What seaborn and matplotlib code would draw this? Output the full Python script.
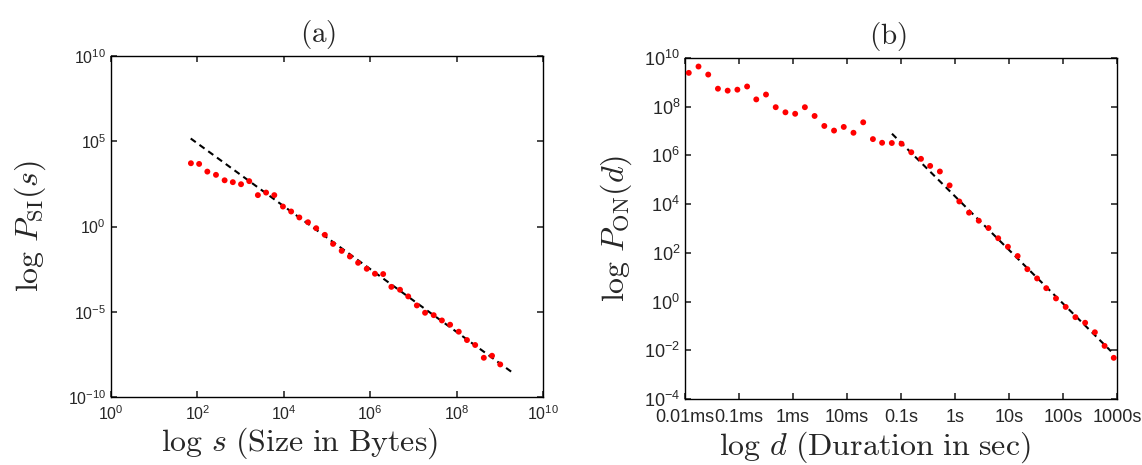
import numpy as np
import pandas as pd
import seaborn as sns
import matplotlib.pyplot as plt
from matplotlib.ticker import LogLocator, FixedLocator, NullLocator, NullFormatter

# (a) size distribution, log10 values
size_log = [1.85, 2.04, 2.23, 2.43, 2.63, 2.82, 3.01, 3.20, 3.40, 3.59,
            3.78, 3.98, 4.17, 4.36, 4.56, 4.75, 4.95, 5.14, 5.34, 5.53,
            5.72, 5.92, 6.11, 6.30, 6.49, 6.69, 6.88, 7.08, 7.27, 7.47,
            7.66, 7.85, 8.05, 8.24, 8.43, 8.63, 8.82, 9.01]
p_si_log = [3.71, 3.67, 3.22, 3.03, 2.71, 2.60, 2.48, 2.66, 1.84, 1.99,
            1.84, 1.17, 0.88, 0.53, 0.25, -0.10, -0.49, -1.02, -1.43, -1.76,
            -2.13, -2.48, -2.77, -2.79, -3.54, -3.71, -4.10, -4.63, -5.06, -5.20,
            -5.51, -5.76, -6.17, -6.66, -6.95, -7.70, -7.58, -8.09]
fit_a_x = [70, 2.2e9]
fit_a_y = [1.45e5, 2.2e-9]

# (b) ON duration distribution
dur_log = [-4.93, -4.75, -4.57, -4.39, -4.21, -4.03, -3.85, -3.68, -3.50, -3.32,
           -3.14, -2.96, -2.78, -2.60, -2.42, -2.24, -2.06, -1.88, -1.70, -1.52,
           -1.35, -1.17, -0.99, -0.81, -0.63, -0.46, -0.28, -0.10, 0.08, 0.26,
           0.44, 0.62, 0.80, 0.98, 1.16, 1.34, 1.52, 1.69, 1.87, 2.05,
           2.23, 2.41, 2.59, 2.77, 2.94]
p_on_log = [9.39, 9.65, 9.32, 8.74, 8.66, 8.70, 8.83, 8.30, 8.50, 7.98,
            7.77, 7.71, 7.98, 7.62, 7.21, 7.02, 7.17, 6.93, 7.36, 6.67,
            6.52, 6.51, 6.48, 6.13, 5.86, 5.57, 5.34, 4.77, 4.11, 3.65,
            3.32, 3.02, 2.60, 2.25, 1.87, 1.33, 0.95, 0.55, 0.13, -0.22,
            -0.64, -0.87, -1.26, -1.82, -2.31]
fit_b_x = [0.068, 776]
fit_b_y = [7.8e6, 9.1e-3]

dur_ticks = [1e-5, 1e-4, 1e-3, 1e-2, 1e-1, 1, 10, 100, 1000]
dur_labels = ["0.01ms", "0.1ms", "1ms", "10ms", "0.1s", "1s", "10s", "100s", "1000s"]

sns.set_theme(style="ticks")
plt.rcParams["font.family"] = ["Liberation Sans", "DejaVu Sans"]
plt.rcParams["mathtext.fontset"] = "cm"
plt.rcParams["axes.linewidth"] = 1.0

df_a = pd.DataFrame({"s": 10.0 ** np.array(size_log), "p": 10.0 ** np.array(p_si_log)})
df_b = pd.DataFrame({"d": 10.0 ** np.array(dur_log), "p": 10.0 ** np.array(p_on_log)})

fig = plt.figure(figsize=(11.42, 4.65), dpi=100)
ax1 = fig.add_axes([111 / 1142, 1 - 397 / 465, 432 / 1142, 341 / 465])
ax2 = fig.add_axes([685 / 1142, 1 - 399 / 465, 432 / 1142, 341 / 465])

# panel (a)
sns.lineplot(x=fit_a_x, y=fit_a_y, ax=ax1, color="black", lw=1.5)
ax1.lines[-1].set_linestyle((0, (3, 2.2)))
sns.scatterplot(data=df_a, x="s", y="p", ax=ax1, color="#ff0000", s=18,
                edgecolor="none", zorder=3)
ax1.set_xscale("log")
ax1.set_yscale("log")
ax1.set_xlim(1, 1e10)
ax1.set_ylim(1e-10, 1e10)
ax1.xaxis.set_major_locator(FixedLocator([1e0, 1e2, 1e4, 1e6, 1e8, 1e10]))
ax1.yaxis.set_major_locator(FixedLocator([1e-10, 1e-5, 1e0, 1e5, 1e10]))
ax1.xaxis.set_minor_locator(NullLocator())
ax1.yaxis.set_minor_locator(NullLocator())
ax1.set_xlabel(r"$\log\, s\ \mathrm{(Size\ in\ Bytes)}$", fontsize=23)
ax1.set_ylabel(r"$\log\, P_{\rm SI}(s)$", fontsize=23)
ax1.set_title(r"$\mathrm{(a)}$", fontsize=21, pad=10, x=0.48)
ax1.xaxis.set_label_coords(0.437, -0.083)
ax1.yaxis.set_label_coords(-0.145, 0.5)

# panel (b)
sns.lineplot(x=fit_b_x, y=fit_b_y, ax=ax2, color="black", lw=1.5)
ax2.lines[-1].set_linestyle((0, (3, 2.2)))
sns.scatterplot(data=df_b, x="d", y="p", ax=ax2, color="#ff0000", s=18,
                edgecolor="none", zorder=3)
ax2.set_xscale("log")
ax2.set_yscale("log")
ax2.set_xlim(1e-5, 1e3)
ax2.set_ylim(1e-4, 1e10)
ax2.xaxis.set_major_locator(FixedLocator(dur_ticks))
ax2.set_xticklabels(dur_labels)
ax2.xaxis.set_minor_locator(LogLocator(base=10, subs=np.arange(2, 10)))
ax2.xaxis.set_minor_formatter(NullFormatter())
ax2.yaxis.set_major_locator(FixedLocator([10.0 ** k for k in range(-4, 11, 2)]))
ax2.yaxis.set_minor_locator(NullLocator())
ax2.set_xlabel(r"$\log\, d\ \mathrm{(Duration\ in\ sec)}$", fontsize=23)
ax2.set_ylabel(r"$\log\, P_{\rm ON}(d)$", fontsize=23)
ax2.set_title(r"$\mathrm{(b)}$", fontsize=21, pad=10, x=0.47)
ax2.xaxis.set_label_coords(0.44, -0.088)
ax2.yaxis.set_label_coords(-0.118, 0.5)

for ax, lsize, xpad in ((ax1, 11.5, 5), (ax2, 13, 7)):
    ax.tick_params(which="both", direction="in", top=True, right=True,
                   labelsize=lsize, color="#333333")
    ax.tick_params(which="major", length=4)
    ax.tick_params(which="minor", length=2)
    ax.tick_params(axis="x", which="both", pad=xpad)
    for sp in ax.spines.values():
        sp.set_visible(True)
        sp.set_color("black")

fig.savefig("out.png", dpi=100)
